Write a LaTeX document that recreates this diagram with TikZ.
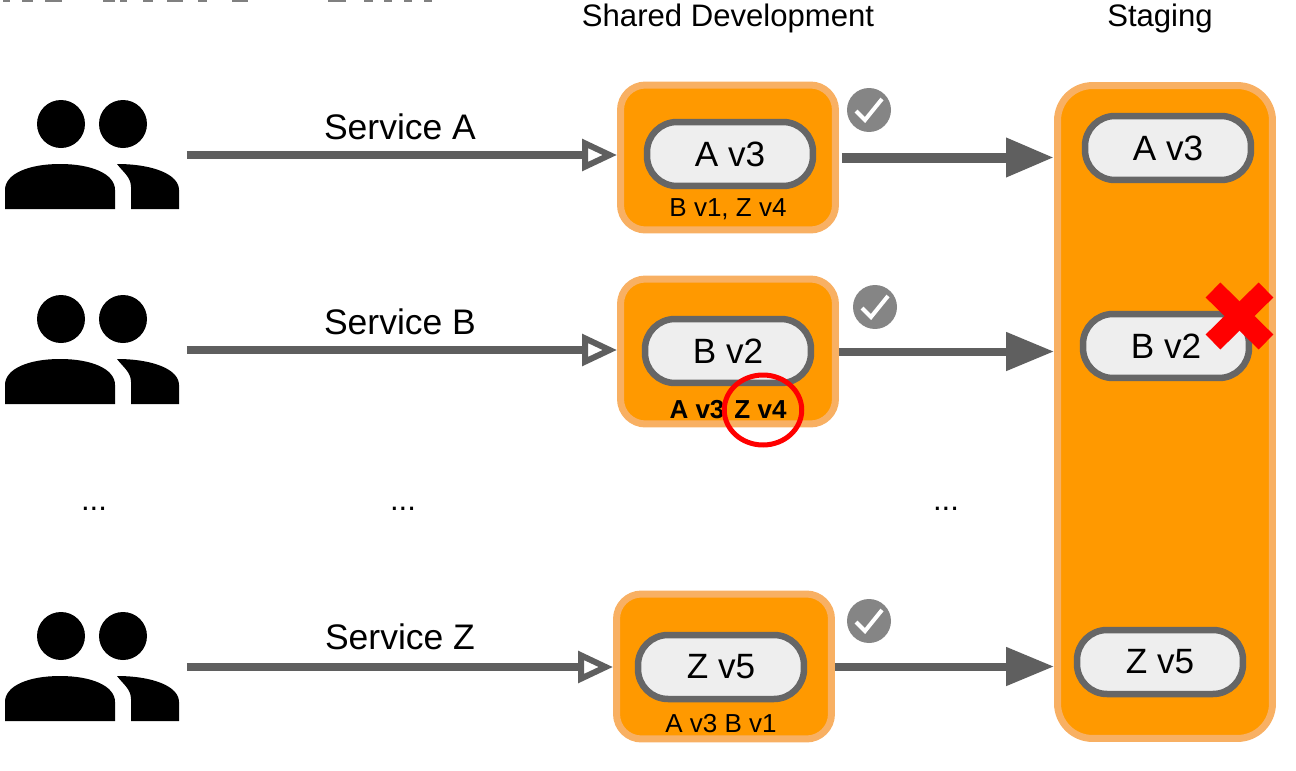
\documentclass[tikz,border=0pt]{standalone}
\usepackage{fontspec}
\setmainfont{Liberation Sans}
\usetikzlibrary{arrows.meta,shapes.geometric}
\definecolor{darkline}{HTML}{5F5F5F}
\definecolor{boxfill}{HTML}{FF9900}
\definecolor{boxedge}{HTML}{F8B063}
\definecolor{pillfill}{HTML}{EEEEEE}
\definecolor{pilledge}{HTML}{666666}
\definecolor{checkgray}{HTML}{858585}
\newcommand{\fsize}[1]{\fontsize{#1}{#1}\selectfont}
\begin{document}
\begin{tikzpicture}[
  x=0.02cm, y=-0.02cm,
  devbox/.style={draw=boxedge, fill=boxfill, line width=0.14cm, rectangle, rounded corners=0.5cm, minimum width=4.3cm, minimum height=2.9cm, inner sep=0pt},
  stagebox/.style={draw=boxedge, fill=boxfill, line width=0.14cm, rectangle, rounded corners=0.7cm, minimum width=4.3cm, minimum height=13.06cm, inner sep=0pt},
  pill/.style={draw=pilledge, fill=pillfill, line width=0.13cm, rectangle, rounded corners=0.6cm, minimum width=3.32cm, minimum height=1.28cm, inner sep=0pt, font=\fsize{20}},
  users/.style={rectangle, minimum width=3.48cm, minimum height=2.18cm, inner sep=0pt, outer sep=0pt},
  caption/.style={font=\fsize{17.7}, inner sep=0pt},
  service/.style={font=\fsize{20.2}, inner sep=0pt},
  deps/.style={font=\fsize{14.8}, inner sep=0pt},
  check/.style={circle, fill=checkgray, minimum size=0.88cm, inner sep=0pt},
  feed/.style={draw=darkline, line width=0.15cm, -{Triangle[open, length=0.7cm, width=0.62cm, line width=0.12cm]}},
  promote/.style={draw=darkline, line width=0.16cm, -{Triangle[length=0.96cm, width=0.74cm]}}
]
\useasboundingbox (0,0) rectangle (1296,771);
% bottom edge of the cropped heading
\foreach \xa/\xb in {3/10, 22/33, 45/62, 103/115, 120/127, 143/153, 167/183, 198/207, 232/248, 328/346, 364/373, 384/392, 404/412, 424/432} {
  \fill[gray] (\xa,0) rectangle (\xb,1.5);
}

\node[caption] (shared) at (728,18) {Shared Development};
\node[caption] (staging) at (1160,18) {Staging};

% teams
\foreach \nm/\py in {ua/155, ub/350, uz/667} {
  \node[users] (\nm) at (92,\py) {};
  \fill ([shift={(-31,-31)}]\nm.center) circle [x radius=24, y radius=24];
  \fill ([shift={(31,-31)}]\nm.center) circle [x radius=24, y radius=24];
  \fill ([shift={(-87,54)}]\nm.center) -- ++(0,-19) .. controls +(0,-16) and +(-32,0) .. ++(55,-26) .. controls +(32,0) and +(0,-16) .. ++(55,26) -- ++(0,19) -- cycle;
  \fill ([shift={(39,54)}]\nm.center) -- ++(0,-22) .. controls +(0,-10) and +(6,8) .. ++(-14,-23) .. controls +(35,0) and +(0,-16) .. ++(62,26) -- ++(0,19) -- cycle;
}

\node[devbox] (deva) at (728,157.5) {};
\node[devbox] (devb) at (728,351.5) {};
\node[devbox] (devz) at (724,666.5) {};
\node[stagebox] (stage) at (1165,412) {};

\node[pill] (pa) at (730,154) {A v3};
\node[pill] (pb) at (728,351) {B v2};
\node[pill] (pz) at (721,667) {Z v5};
\node[pill] (sa) at (1168,148) {A v3};
\node[pill] (sb) at (1166,346) {B v2};
\node[pill] (sz) at (1160,662) {Z v5};

\node[deps] (da) at (728,209) {B v1, Z v4};
\node[deps] (db) at (728,410) {\textbf{A v3\hspace{0.2cm}Z v4}};
\node[deps] (dz) at (721,724) {A v3 B v1};

\node[service] (la) at (400,127) {Service A};
\node[service] (lb) at (400,322) {Service B};
\node[service] (lz) at (400,637) {Service Z};

\node[caption] (d1) at (94,509) {...};
\node[caption] (d2) at (403,509) {...};
\node[caption] (d3) at (946,509) {...};

\draw[feed] ([xshift=0.16cm]ua.east) -- (ua.east -| deva.west);
\draw[feed] ([xshift=0.16cm]ub.east) -- (ub.east -| devb.west);
\draw[feed] ([xshift=0.16cm]uz.east) -- (uz.east -| devz.west);
\draw[promote, line width=0.2cm] ([xshift=0.06cm]deva.east) -- (deva.east -| stage.west);
\draw[promote] (devb.east) -- (devb.east -| stage.west);
\draw[promote] (devz.east) -- (devz.east -| stage.west);

\foreach \nm/\px/\py in {ca/869/110, cb/875/307, cz/869/621} {
  \node[check] (\nm) at (\px,\py) {};
  \draw[white, line width=0.08cm] ([shift={(-13,1)}]\nm.center) -- ++(9,9) -- ++(17,-21);
}

\node[draw=red, line width=0.1cm, ellipse, minimum width=1.55cm, minimum height=1.4cm, inner sep=0pt] (mark) at (763,410) {};
\draw[red, line width=0.42cm] (1213,290) -- (1266,342);
\draw[red, line width=0.42cm] (1266,290) -- (1213,342);
\end{tikzpicture}
\end{document}
